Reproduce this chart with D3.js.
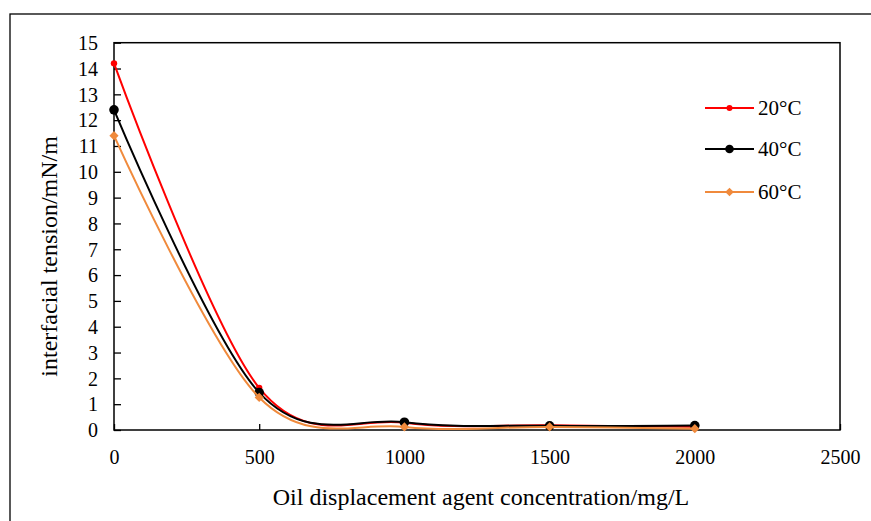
<!DOCTYPE html>
<html>
<head>
<meta charset="utf-8">
<script src="https://cdn.jsdelivr.net/npm/d3@7"></script>
<style>
  html, body { margin: 0; padding: 0; background: #fff; }
  svg { display: block; }
  text { font-family: "Liberation Serif", "Times New Roman", serif; fill: #000; }
</style>
</head>
<body>
<svg id="chart" width="871" height="521"></svg>
<script>
// Interfacial tension vs. oil displacement agent concentration at three temperatures
const concentrations = [0, 500, 1000, 1500, 2000];
const tension20 = [14.2, 1.63, 0.28, 0.18, 0.13];
const tension40 = [12.4, 1.45, 0.30, 0.16, 0.17];
const tension60 = [11.4, 1.26, 0.12, 0.12, 0.05];
const seriesNames = ["20°C", "40°C", "60°C"];
const xTicks = [0, 500, 1000, 1500, 2000, 2500];
const yTicks = d3.range(0, 16, 1);

const seriesStyle = [
  { color: "#ff0000", shape: "circle", r: 3.2 },
  { color: "#000000", shape: "circle", r: 4.8 },
  { color: "#f08a3c", shape: "diamond", r: 4.6 }
];
const seriesValues = [tension20, tension40, tension60];

const svg = d3.select("#chart");
const plot = { left: 114, right: 840, top: 42.7, bottom: 430 };

// outer frame (left and top edges visible)
svg.append("rect")
  .attr("x", 10).attr("y", 14)
  .attr("width", 900).attr("height", 560)
  .attr("fill", "none").attr("stroke", "#000").attr("stroke-width", 1.3);

const x = d3.scaleLinear().domain([0, 2500]).range([plot.left, plot.right]);
const y = d3.scaleLinear().domain([0, 15]).range([plot.bottom, plot.top]);

// plot box
svg.append("rect")
  .attr("x", plot.left).attr("y", plot.top)
  .attr("width", plot.right - plot.left).attr("height", plot.bottom - plot.top)
  .attr("fill", "none").attr("stroke", "#000").attr("stroke-width", 1.5);

// axes with inward ticks
const xAxis = svg.append("g")
  .attr("transform", `translate(0,${plot.bottom})`)
  .call(d3.axisBottom(x).tickValues(xTicks).tickFormat(d3.format("d"))
    .tickSizeInner(-6).tickSizeOuter(0).tickPadding(20));
const yAxis = svg.append("g")
  .attr("transform", `translate(${plot.left},0)`)
  .call(d3.axisLeft(y).tickValues(yTicks).tickFormat(d3.format("d"))
    .tickSizeInner(-7).tickSizeOuter(0).tickPadding(16));

[xAxis, yAxis].forEach(g => {
  g.select(".domain").remove();
  g.selectAll(".tick line").attr("stroke", "#000").attr("stroke-width", 1.3);
  g.selectAll(".tick text")
    .style("font-family", '"Liberation Serif", "Times New Roman", serif')
    .style("font-size", "20px").attr("fill", "#000");
});
yAxis.selectAll(".tick text").attr("dy", "0.34em");

// smoothed series lines and markers
const line = d3.line()
  .x((d, i) => x(concentrations[i]))
  .y(d => y(d))
  .curve(d3.curveCatmullRom.alpha(0));

function drawMarker(g, style, cx, cy) {
  if (style.shape === "diamond") {
    const r = style.r;
    g.append("path")
      .attr("d", `M${cx},${cy - r}L${cx + r},${cy}L${cx},${cy + r}L${cx - r},${cy}Z`)
      .attr("fill", style.color);
  } else {
    g.append("circle").attr("cx", cx).attr("cy", cy).attr("r", style.r).attr("fill", style.color);
  }
}

seriesValues.forEach((vals, s) => {
  const st = seriesStyle[s];
  const g = svg.append("g");
  g.append("path").datum(vals)
    .attr("d", line)
    .attr("fill", "none")
    .attr("stroke", st.color)
    .attr("stroke-width", 2);
  vals.forEach((v, i) => drawMarker(g, st, x(concentrations[i]), y(v)));
});

// legend
const legendRows = [108, 149, 192];
seriesNames.forEach((name, s) => {
  const st = seriesStyle[s];
  const g = svg.append("g");
  const ly = legendRows[s];
  g.append("line").attr("x1", 705).attr("x2", 754).attr("y1", ly).attr("y2", ly)
    .attr("stroke", st.color).attr("stroke-width", 2);
  drawMarker(g, { ...st, r: s === 0 ? 3 : 4.3 }, 729.5, ly);
  g.append("text").attr("x", 758).attr("y", ly).attr("dy", "0.35em")
    .style("font-size", "21px").text(name);
});

// axis titles
svg.append("text")
  .attr("x", (plot.left + plot.right) / 2 + 4).attr("y", 505)
  .attr("text-anchor", "middle")
  .style("font-size", "24px")
  .text("Oil displacement agent concentration/mg/L");

svg.append("text")
  .attr("transform", `translate(57,${(plot.top + plot.bottom) / 2 + 20}) rotate(-90)`)
  .attr("text-anchor", "middle")
  .style("font-size", "24px")
  .text("interfacial tension/mN/m");
</script>
</body>
</html>
